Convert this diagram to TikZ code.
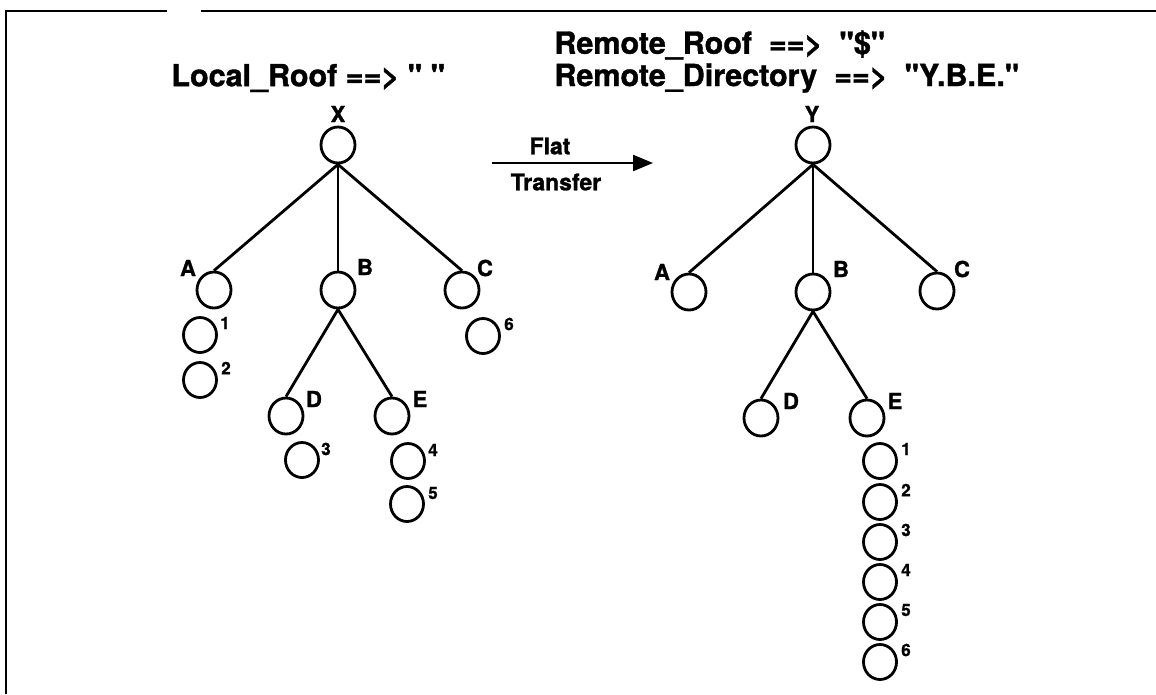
\documentclass[tikz,border=0pt]{standalone}
\usepackage{fontspec}
\setmainfont{TeX Gyre Heros}[Ligatures=TeXOff,BoldFeatures={FakeBold=1.2}]
\usetikzlibrary{shapes.geometric,arrows.meta}
\begin{document}
\begin{tikzpicture}[x=1pt,y=-1pt,line width=2.8pt,
  dirnode/.style={ellipse,draw,line width=2.8pt,inner sep=0pt,minimum width=34pt,minimum height=36pt},
  filenode/.style={ellipse,draw,line width=2.8pt,inner sep=0pt,minimum width=33pt,minimum height=35pt},
  lbl/.style={inner sep=0pt,font=\fontsize{22}{24}\selectfont\bfseries},
  num/.style={inner sep=0pt,font=\fontsize{17}{18}\selectfont\bfseries},
  title/.style={inner sep=0pt,anchor=west,font=\fontsize{30.5}{32}\selectfont\bfseries},
  arrowtext/.style={inner sep=0pt,font=\fontsize{23}{25}\selectfont\bfseries}]
\useasboundingbox (0,0) rectangle (1156,694);

% frame
\draw (167,11) -- (6,11) -- (6,694);
\draw (201,11) -- (1156,11);

% headings
\node[title] (lroof) at (170,78) {Local\_Roof ==> " "};
\node[title] (rroof) at (553,45) {Remote\_Roof\ \ ==>\ \ "\$"};
\node[title] (rdir) at (553,78) {Remote\_Directory\ \ ==>\ \ "Y.B.E."};

% ---- local tree ----
\node[dirnode] (X) at (338,145) {};
\node[lbl] (Xl) at (338,114) {X};
\node[dirnode] (A) at (214,290) {};
\node[dirnode] (B) at (338,290) {};
\node[dirnode] (C) at (462,290) {};
\node[lbl] (Al) at (188,268) {A};
\node[lbl] (Bl) at (365,267) {B};
\node[lbl] (Cl) at (485,268) {C};
\node[dirnode] (D) at (286,416) {};
\node[dirnode] (E) at (392,416) {};
\node[lbl] (Dl) at (314,399) {D};
\node[lbl] (El) at (420,399) {E};
\draw (X.south) -- (A.north);
\draw (X.south) -- (B.north);
\draw (X.south) -- (C.north);
\draw (B.south) -- (D.north);
\draw (B.south) -- (E.north);

\node[filenode] (f1) at (200,335) {};
\node[filenode] (f2) at (200,380) {};
\node[filenode] (f6) at (483,336) {};
\node[filenode] (f3) at (302,460) {};
\node[filenode] (f4) at (408,461) {};
\node[filenode] (f5) at (407,504) {};
\node[num] (n1) at (225,323) {1};
\node[num] (n2) at (226,368) {2};
\node[num] (n6) at (509,324) {6};
\node[num] (n3) at (326,449) {3};
\node[num] (n4) at (433,450) {4};
\node[num] (n5) at (433,493) {5};

% ---- transfer arrow ----
\node[arrowtext] (flat) at (550,146) {Flat};
\node[arrowtext] (transfer) at (556,182) {Transfer};
\coordinate (arrs) at (492,163);
\coordinate (arre) at (653,163);
\draw[-{Triangle[length=20pt,width=16pt]},line width=2.4pt] (arrs) -- (arre);

% ---- remote tree ----
\node[dirnode] (Y) at (813,145) {};
\node[lbl] (Yl) at (812,114) {Y};
\node[dirnode] (RA) at (689,292) {};
\node[dirnode] (RB) at (813,292) {};
\node[dirnode] (RC) at (937,291) {};
\node[lbl] (RAl) at (662,272) {A};
\node[lbl] (RBl) at (841,269) {B};
\node[lbl] (RCl) at (962,269) {C};
\node[dirnode] (RD) at (761,418) {};
\node[dirnode] (RE) at (867,418) {};
\node[lbl] (RDl) at (791,401) {D};
\node[lbl] (REl) at (895,401) {E};
\draw (Y.south) -- (RA.north);
\draw (Y.south) -- (RB.north);
\draw (Y.south) -- (RC.north);
\draw (RB.south) -- (RD.north);
\draw (RB.south) -- (RE.north);

% files gathered under Y.B.E.
\foreach \i/\yy in {1/461,2/502,3/542,4/582,5/622,6/662}{
  \node[filenode] (r\i) at (880,\yy) {};
  \node[num] (rn\i) at (906,\yy-12) {\i};
}
\end{tikzpicture}
\end{document}
